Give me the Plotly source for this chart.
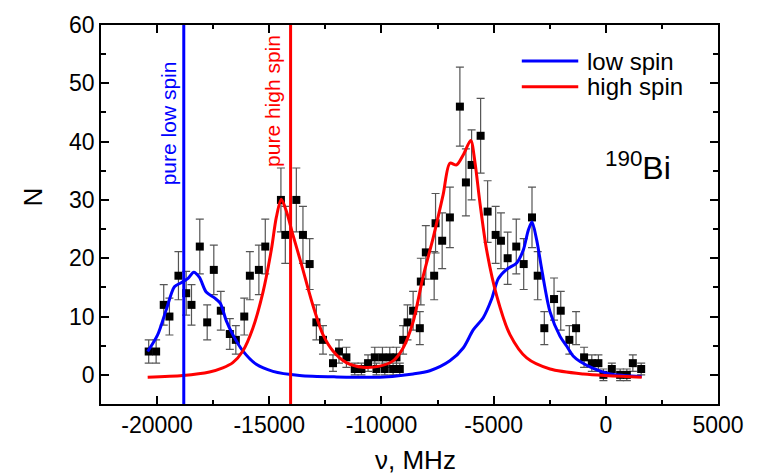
import numpy as np
import plotly.graph_objects as go

# ---- measured data (frequency offset in MHz, counts N) ----
data_x = [-20374, -20043, -19704, -19450, -19048, -18704, -18467, -18097, -17767, -17472,
          -17160, -16758, -16490, -16115, -15865, -15463, -15178, -14481, -14285, -13794,
          -13499, -13200, -12901, -12606, -12160, -11892, -11562, -11191, -10892, -10597,
          -10298, -10223, -9955, -9852, -9629, -9481, -9330, -9183, -9035, -8839,
          -8588, -8290, -8245, -8022, -7651, -7589, -7294, -6950, -6504, -6236,
          -5982, -5580, -5268, -4910, -4674, -4375, -3991, -3660, -3290, -3036,
          -2741, -2308, -2009, -1625, -1326, -969, -625, -330, -107, 268,
          638, 937, 1205, 1576]
data_n = [4, 4, 12, 10, 17, 14, 12, 22, 9, 18,
          11, 7, 6, 10, 17, 18, 22, 30, 24, 30,
          24, 19, 9, 6, 2, 4, 3, 1, 1, 2,
          3, 1, 3, 1, 3, 1, 3, 1, 6, 9,
          11, 8, 16, 21, 17, 26, 23, 27, 46, 33,
          36, 41, 28, 24, 23, 20, 22, 19, 27, 17,
          8, 13, 11, 6, 8, 3, 2, 2, 0, 1,
          0, 0, 2, 1]

# ---- fitted curves ----
low_x = [-20420, -19972, -19597, -19227, -18928, -18633, -18365, -18111, -17812, -17441,
         -17186, -16919, -16625, -16178, -15580, -14838, -13647, -12000, -10075, -8588,
         -7843, -6950, -6357, -5910, -5464, -5089, -4794, -4420, -3973, -3678,
         -3455, -3290, -3080, -2857, -2486, -2040, -1741, -1446, -1147, -554,
         192, 1600]
low_y = [4.0, 6.9, 11.1, 15.1, 15.8, 16.5, 17.6, 16.7, 14.2, 13.2,
         12.3, 9.3, 6.9, 4.1, 1.8, 0.6, -0.1, -0.35, -0.4, 0.15,
         0.7, 2.4, 4.6, 7.7, 9.8, 13.0, 16.5, 18.1, 19.2, 21.4,
         24.8, 26.2, 23.1, 18.1, 10.8, 6.6, 4.9, 3.2, 2.3, 1.1,
         0.15, -0.3]

high_x = [-20420, -18856, -17664, -17071, -16625, -16178, -15732, -15285, -14910, -14687,
          -14464, -14240, -13946, -13570, -13053, -12606, -12160, -11562, -10821, -10075,
          -9481, -9035, -8588, -8142, -7696, -7250, -6950, -6651, -6357, -6020,
          -5834, -5611, -5312, -4866, -4272, -3526, -2486, -1000, 1600]
high_y = [-0.4, -0.1, 0.5, 1.2, 2.1, 4.1, 8.0, 14.1, 21.4, 27.0,
          30.1, 28.1, 24.0, 19.0, 11.9, 6.9, 4.1, 2.1, 1.3, 1.5,
          2.4, 4.6, 9.1, 16.9, 23.5, 30.9, 36.3, 36.0, 37.7, 40.2,
          36.5, 29.5, 21.4, 13.6, 6.9, 2.9, 1.0, 0.15, -0.4]

# ---- pure-state reference positions ----
pure_low = -18811
pure_high = -14050

# ---- axes ----
x_range = [-22500, 5000]
y_range = [-5, 60]
x_tickvals = [-20000, -15000, -10000, -5000, 0, 5000]
x_ticktext = ["-20000", "-15000", "-10000", "-5000", "0", "5000"]
x_minor = [-17500, -12500, -7500, -2500, 2500]
y_tickvals = [0, 10, 20, 30, 40, 50, 60]
y_ticktext = ["0", "10", "20", "30", "40", "50", "60"]
y_minor = [-5, 5, 15, 25, 35, 45, 55]

FONT = "Arial, Liberation Sans, sans-serif"
BLUE = "#0000ff"
RED = "#ff0000"

n_arr = np.array(data_n, dtype=float)
err = np.sqrt(np.maximum(n_arr, 1.0))

fig = go.Figure()

fig.add_trace(go.Scatter(
    x=data_x, y=data_n, mode="markers",
    marker=dict(symbol="square", size=8, color="black"),
    error_y=dict(type="data", array=err, visible=True, color="#555555",
                 thickness=1.2, width=4),
    showlegend=False))

fig.add_trace(go.Scatter(
    x=low_x, y=low_y, mode="lines", name="low spin",
    line=dict(color=BLUE, width=3, shape="spline", smoothing=0.8),
    showlegend=False))
fig.add_trace(go.Scatter(
    x=high_x, y=high_y, mode="lines", name="high spin",
    line=dict(color=RED, width=3, shape="spline", smoothing=0.8),
    showlegend=False))

fig.add_trace(go.Scatter(
    x=[pure_low, pure_low], y=y_range, mode="lines",
    line=dict(color=BLUE, width=3), showlegend=False))
fig.add_trace(go.Scatter(
    x=[pure_high, pure_high], y=y_range, mode="lines",
    line=dict(color=RED, width=3), showlegend=False))

axis_common = dict(showgrid=False, zeroline=False, showline=True, linecolor="black",
                   linewidth=1.5, mirror="allticks", ticks="inside", ticklen=8,
                   tickwidth=1.5, tickcolor="black",
                   tickfont=dict(family=FONT, size=23, color="black"))

fig.update_xaxes(range=x_range, tickmode="array", tickvals=x_tickvals, ticktext=x_ticktext,
                 minor=dict(tickmode="array", tickvals=x_minor, ticks="inside", ticklen=4,
                            tickwidth=1.5, tickcolor="black"),
                 **axis_common)
fig.update_yaxes(range=y_range, tickmode="array", tickvals=y_tickvals, ticktext=y_ticktext,
                 minor=dict(tickmode="array", tickvals=y_minor, ticks="inside", ticklen=5,
                            tickwidth=1.5, tickcolor="black"),
                 **axis_common)

annotations = [
    dict(x=pure_low, y=43.1, xref="x", yref="y", xshift=-15, text="pure low spin",
         xanchor="center", yanchor="middle",
         textangle=-90, showarrow=False, font=dict(family=FONT, size=21, color=BLUE)),
    dict(x=pure_high, y=46.9, xref="x", yref="y", xshift=-18, text="pure high spin",
         xanchor="center", yanchor="middle",
         textangle=-90, showarrow=False, font=dict(family=FONT, size=21, color=RED)),
    dict(x=0.871, y=0.628, xref="paper", yref="paper", text="<sup>190</sup>Bi",
         xanchor="center", yanchor="middle",
         showarrow=False, font=dict(family=FONT, size=32, color="black")),
    dict(x=-0.110, y=0.545, xref="paper", yref="paper", text="N", textangle=-90,
         xanchor="center", yanchor="middle",
         showarrow=False, font=dict(family=FONT, size=26, color="black")),
    dict(x=0.509, y=-0.147, xref="paper", yref="paper", text="ν, MHz",
         xanchor="center", yanchor="middle",
         showarrow=False, font=dict(family=FONT, size=26, color="black")),
    dict(x=0.785, y=0.905, xref="paper", yref="paper", text="low spin",
         xanchor="left", yanchor="middle",
         showarrow=False, font=dict(family=FONT, size=24, color="black")),
    dict(x=0.785, y=0.837, xref="paper", yref="paper", text="high spin",
         xanchor="left", yanchor="middle",
         showarrow=False, font=dict(family=FONT, size=24, color="black")),
]

shapes = [
    dict(type="line", xref="paper", yref="paper", x0=0.682, x1=0.7735, y0=0.905, y1=0.905,
         line=dict(color=BLUE, width=3)),
    dict(type="line", xref="paper", yref="paper", x0=0.682, x1=0.7735, y0=0.837, y1=0.837,
         line=dict(color=RED, width=3)),
]

fig.update_layout(
    width=759, height=475,
    margin=dict(l=101, r=41, t=17, b=71),
    paper_bgcolor="white", plot_bgcolor="white",
    annotations=annotations, shapes=shapes,
    showlegend=False,
)

fig.write_html("out.html")
